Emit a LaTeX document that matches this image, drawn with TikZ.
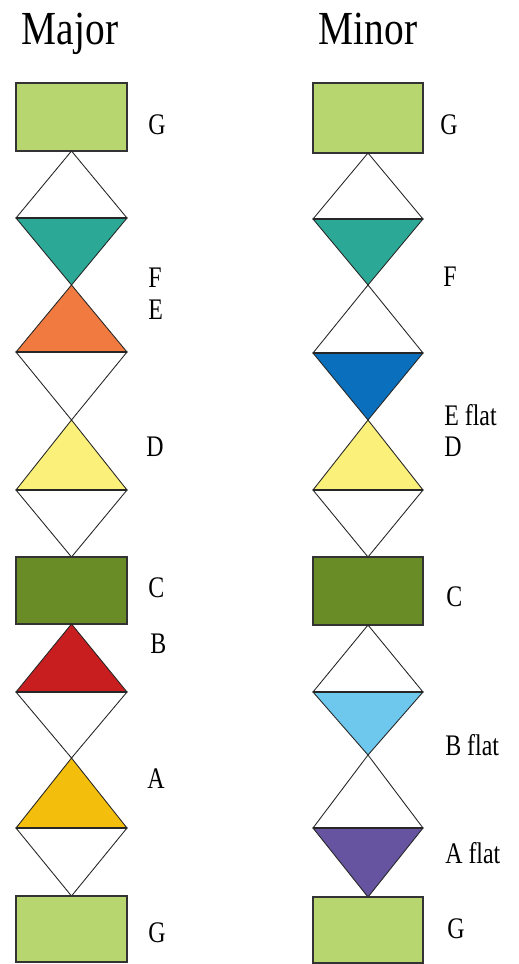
\documentclass[tikz,border=0pt]{standalone}
\usepackage{fontspec}
\setmainfont{Liberation Serif}
\definecolor{grasgreen}{RGB}{183,214,112}
\definecolor{olivegreen}{RGB}{106,140,38}
\definecolor{tealish}{RGB}{44,168,150}
\definecolor{orangeish}{RGB}{240,122,64}
\definecolor{paleyellow}{RGB}{250,240,122}
\definecolor{darkred}{RGB}{200,30,32}
\definecolor{goldish}{RGB}{244,190,12}
\definecolor{midblue}{RGB}{10,112,190}
\definecolor{skyish}{RGB}{110,200,238}
\definecolor{violetish}{RGB}{102,84,160}

\begin{document}
\begin{tikzpicture}[x=0.02cm, y=-0.02cm,
    box/.style={draw=black!80, line width=0.9pt},
    half/.style={draw=black!85, line width=0.5pt, line join=miter},
    midline/.style={draw=black!85, line width=0.9pt},
    note/.style={anchor=west, inner sep=0pt, xscale=0.8, font=\fontsize{17}{17}\selectfont},
    heading/.style={anchor=base, inner sep=0pt, xscale=0.83, font=\fontsize{27}{27}\selectfont}]
  \useasboundingbox (0,0) rectangle (519,964);

  % titles
  \node[heading] (major) at (70,44) {Major};
  \node[heading] (minor) at (368,44) {Minor};

  % major column
  \draw[box, fill=grasgreen] (16,83) rectangle (127,151);
  \draw[half, fill=white]      (16,218) -- (71.5,151) -- (127,218) -- cycle;
  \draw[half, fill=tealish]    (16,218) -- (71.5,285) -- (127,218) -- cycle;
  \draw[midline] (16,218) -- (127,218);
  \draw[half, fill=orangeish]  (16,352) -- (71.5,285) -- (127,352) -- cycle;
  \draw[half, fill=white]      (16,352) -- (71.5,420) -- (127,352) -- cycle;
  \draw[midline] (16,352) -- (127,352);
  \draw[half, fill=paleyellow] (16,490) -- (71.5,420) -- (127,490) -- cycle;
  \draw[half, fill=white]      (16,490) -- (71.5,557) -- (127,490) -- cycle;
  \draw[midline] (16,490) -- (127,490);
  \draw[box, fill=olivegreen] (16,557) rectangle (127,624);
  \draw[half, fill=darkred]    (16,692) -- (71.5,624) -- (127,692) -- cycle;
  \draw[half, fill=white]      (16,692) -- (71.5,758) -- (127,692) -- cycle;
  \draw[midline] (16,692) -- (127,692);
  \draw[half, fill=goldish]    (16,828) -- (71.5,758) -- (127,828) -- cycle;
  \draw[half, fill=white]      (16,828) -- (71.5,896) -- (127,828) -- cycle;
  \draw[midline] (16,828) -- (127,828);
  \draw[box, fill=grasgreen] (16,896) rectangle (127,962);

  \node[note] (maj-g) at (148,125) {G};
  \node[note] (maj-f) at (148,278) {F};
  \node[note] (maj-e) at (148,310) {E};
  \node[note] (maj-d) at (146,447) {D};
  \node[note] (maj-c) at (148,588) {C};
  \node[note] (maj-b) at (150,644) {B};
  \node[note] (maj-a) at (147,779) {A};
  \node[note] (maj-gg) at (148,933) {G};

  % minor column
  \draw[box, fill=grasgreen] (313,83) rectangle (423,153);
  \draw[half, fill=white]      (313,219) -- (368,153) -- (423,219) -- cycle;
  \draw[half, fill=tealish]    (313,219) -- (368,285) -- (423,219) -- cycle;
  \draw[midline] (313,219) -- (423,219);
  \draw[half, fill=white]      (313,353) -- (368,285) -- (423,353) -- cycle;
  \draw[half, fill=midblue]    (313,353) -- (368,420) -- (423,353) -- cycle;
  \draw[midline, line width=1.6pt] (313,353) -- (423,353);
  \draw[half, fill=paleyellow] (313,490) -- (368,420) -- (423,490) -- cycle;
  \draw[half, fill=white]      (313,490) -- (368,557) -- (423,490) -- cycle;
  \draw[midline] (313,490) -- (423,490);
  \draw[box, fill=olivegreen] (313,557) rectangle (423,625);
  \draw[half, fill=white]      (313,692) -- (368,625) -- (423,692) -- cycle;
  \draw[half, fill=skyish]     (313,692) -- (368,755) -- (423,692) -- cycle;
  \draw[midline] (313,692) -- (423,692);
  \draw[half, fill=white]      (313,828) -- (368,755) -- (423,828) -- cycle;
  \draw[half, fill=violetish]  (313,828) -- (368,897) -- (423,828) -- cycle;
  \draw[midline] (313,828) -- (423,828);
  \draw[box, fill=grasgreen] (313,897) rectangle (423,963);

  \node[note] (min-g) at (440,125) {G};
  \node[note] (min-f) at (443,277) {F};
  \node[note] (min-eflat) at (444,415) {E flat};
  \node[note] (min-d) at (444,447) {D};
  \node[note] (min-c) at (446,597) {C};
  \node[note] (min-bflat) at (445,745) {B flat};
  \node[note] (min-aflat) at (445,853) {A flat};
  \node[note] (min-gg) at (447,929) {G};
\end{tikzpicture}
\end{document}
